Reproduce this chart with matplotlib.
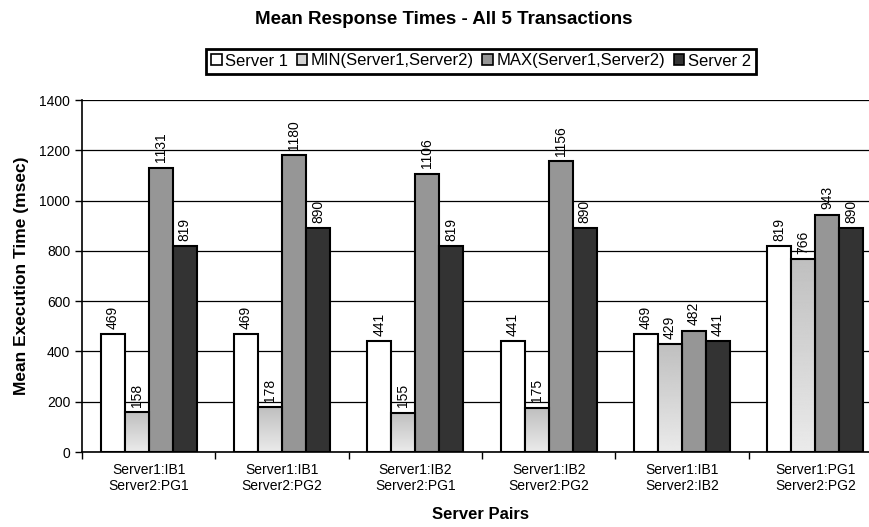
import numpy as np
import matplotlib.pyplot as plt
from matplotlib.ticker import FixedLocator

plt.rcParams['font.family'] = ['Liberation Sans', 'DejaVu Sans']

pairs = ['Server1:IB1\nServer2:PG1', 'Server1:IB1\nServer2:PG2', 'Server1:IB2\nServer2:PG1',
         'Server1:IB2\nServer2:PG2', 'Server1:IB1\nServer2:IB2', 'Server1:PG1\nServer2:PG2']
server1 = [469, 469, 441, 441, 469, 819]
min_vals = [158, 178, 155, 175, 429, 766]
max_vals = [1131, 1180, 1106, 1156, 482, 943]
server2 = [819, 890, 819, 890, 441, 890]

series = [('Server 1', server1, '#ffffff'),
          ('MIN(Server1,Server2)', min_vals, '#d4d4d4'),
          ('MAX(Server1,Server2)', max_vals, '#969696'),
          ('Server 2', server2, '#333333')]

fig = plt.figure(figsize=(8.7, 5.27), dpi=100)
ax = fig.add_axes([82 / 870, 1 - 452 / 527, 800 / 870, 352 / 527])

x = np.arange(len(pairs))
w = 0.18
grad = np.linspace(0.75, 0.92, 256).reshape(-1, 1)

for i, (name, vals, col) in enumerate(series):
    pos = x + (i - 1.5) * w
    bars = ax.bar(pos, vals, w, color=col, edgecolor='black', linewidth=1.5, label=name, zorder=3)
    if i == 1:
        # gradient fill for the MIN bars
        for b in bars:
            bx, by = b.get_x(), b.get_y()
            im = ax.imshow(grad, cmap='gray', vmin=0, vmax=1, aspect='auto',
                           extent=[bx, bx + b.get_width(), by, by + b.get_height()],
                           origin='upper', zorder=3.5)
            im.set_clip_path(b)
            b.set_facecolor('none')
            b.set_zorder(4)
    for p, v in zip(pos, vals):
        ax.annotate(str(v), (p, v), xytext=(0, 4), textcoords='offset points',
                    rotation=90, ha='center', va='bottom', fontsize=10, zorder=5)

ax.set_xlim(-0.5, 5.5)
ax.set_ylim(0, 1400)
ax.set_yticks(range(0, 1401, 200))
ax.yaxis.grid(True, color='black', linewidth=0.9, zorder=0)
ax.set_axisbelow(True)
ax.xaxis.set_major_locator(FixedLocator(np.arange(-0.5, 6, 1)))
ax.xaxis.set_minor_locator(FixedLocator(x))
ax.set_xticklabels([], minor=False)
ax.set_xticklabels(pairs, minor=True, fontsize=10)
ax.tick_params(axis='x', which='major', length=5, width=1, direction='out')
ax.tick_params(axis='x', which='minor', length=0, pad=8)
ax.tick_params(axis='y', length=5, width=1, labelsize=10)
for s in ['top', 'right']:
    ax.spines[s].set_visible(False)
for s in ['left', 'bottom']:
    ax.spines[s].set_linewidth(1.2)

ax.set_ylabel('Mean Execution Time (msec)', fontsize=12.5, fontweight='bold', labelpad=7)
ax.set_xlabel('Server Pairs', fontsize=12, fontweight='bold', labelpad=9)
ax.xaxis.set_label_coords((481 - 82) / 800, -0.155)
fig.text(444 / 870, 1 - 20 / 527, 'Mean Response Times - All 5 Transactions', ha='center', va='center',
         fontsize=13.5, fontweight='bold')

handles = [plt.Rectangle((0, 0), 1, 1, facecolor=c, edgecolor='black', linewidth=1.2) for _, _, c in series]
leg = fig.legend(handles, [s[0] for s in series], loc='center', bbox_to_anchor=(481 / 870, 1 - 61 / 527),
                 ncol=4, fontsize=12, frameon=True, fancybox=False, edgecolor='black', framealpha=1,
                 handlelength=0.65, handleheight=0.65, handletextpad=0.2, columnspacing=0.5, borderpad=0.3,
                 borderaxespad=0)
leg.get_frame().set_linewidth(2)

fig.savefig('out.png', dpi=100)
